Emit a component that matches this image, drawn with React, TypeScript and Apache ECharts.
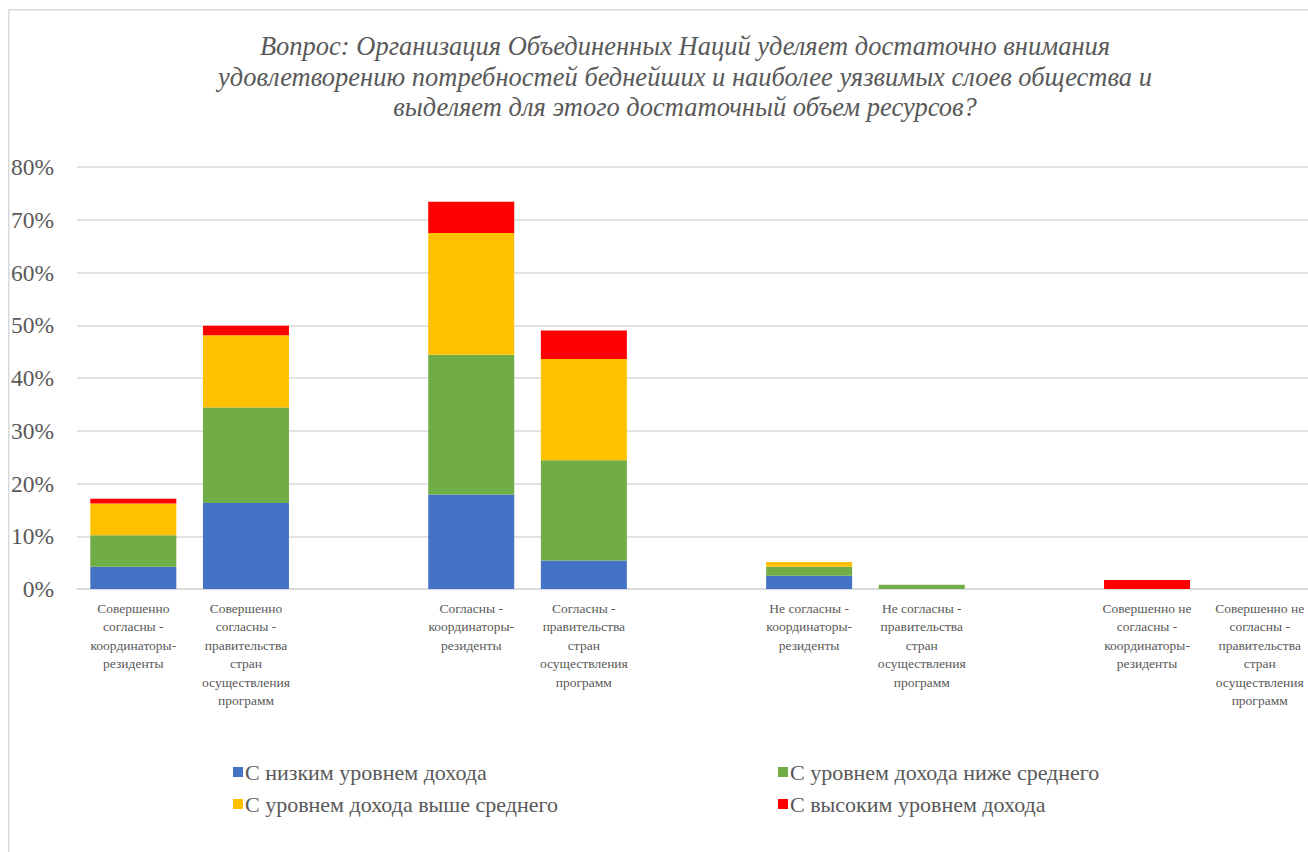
import React, { useEffect, useRef } from "react";
import * as echarts from "echarts";

const titleText =
  "Вопрос: Организация Объединенных Наций уделяет достаточно внимания\nудовлетворению потребностей беднейших и наиболее уязвимых слоев общества и\nвыделяет для этого достаточный объем ресурсов?";

const categories = [
  "Совершенно\nсогласны -\nкоординаторы-\nрезиденты",
  "Совершенно\nсогласны -\nправительства\nстран\nосуществления\nпрограмм",
  " ",
  "Согласны -\nкоординаторы-\nрезиденты",
  "Согласны -\nправительства\nстран\nосуществления\nпрограмм",
  "  ",
  "Не согласны -\nкоординаторы-\nрезиденты",
  "Не согласны -\nправительства\nстран\nосуществления\nпрограмм",
  "   ",
  "Совершенно не\nсогласны -\nкоординаторы-\nрезиденты",
  "Совершенно не\nсогласны -\nправительства\nстран\nосуществления\nпрограмм",
];

const seriesNames = [
  "С низким уровнем дохода",
  "С уровнем дохода ниже среднего",
  "С уровнем дохода выше среднего",
  "С высоким уровнем дохода",
];

const lowIncome = [4.2, 16.3, null, 17.9, 5.4, null, 2.5, 0, null, 0, 0];
const lowerMiddle = [6.0, 18.1, null, 26.5, 19.0, null, 1.7, 0.8, null, 0, 0];
const upperMiddle = [6.0, 13.7, null, 23.1, 19.2, null, 0.9, 0, null, 0, 0];
const highIncome = [0.9, 1.8, null, 5.9, 5.4, null, 0, 0, null, 1.7, 0];

const yTicks = [0, 10, 20, 30, 40, 50, 60, 70, 80];

const colors = ["#4472C4", "#70AD47", "#FFC000", "#FF0000"];

export default function App() {
  const ref = useRef<HTMLDivElement>(null);
  useEffect(() => {
    if (!ref.current) return;
    const chart = echarts.init(ref.current, null, { renderer: "svg" });
    const font = "Liberation Serif";
    const values = [lowIncome, lowerMiddle, upperMiddle, highIncome];
    const legendPos = [
      { left: 233, top: 761 },
      { left: 778, top: 761 },
      { left: 233, top: 793 },
      { left: 778, top: 793 },
    ];
    chart.setOption({
      animation: false,
      backgroundColor: "#ffffff",
      graphic: [
        {
          type: "rect",
          shape: { x: 8.75, y: 9.75, width: 1400, height: 1000 },
          style: { fill: "none", stroke: "#d9d9d9", lineWidth: 1.5 },
          silent: true,
        },
        {
          type: "text",
          x: 685,
          y: 31,
          style: {
            text: titleText,
            textAlign: "center",
            textVerticalAlign: "top",
            fill: "#595959",
            fontFamily: font,
            fontStyle: "italic",
            fontSize: 26.5,
            lineHeight: 30.5,
          },
        },
      ],
      legend: seriesNames.map((n, i) => ({
        data: [n],
        left: legendPos[i].left,
        top: legendPos[i].top,
        padding: 0,
        icon: "rect",
        itemWidth: 10,
        itemHeight: 10,
        selectedMode: false,
        textStyle: { fontFamily: font, fontSize: 22, color: "#595959", padding: [0, 0, 0, -3] },
      })),
      grid: { left: 77, top: 167, width: 1239, height: 422, containLabel: false },
      xAxis: {
        type: "category",
        data: categories,
        axisLine: { lineStyle: { color: "#d9d9d9", width: 1.5 } },
        axisTick: { show: false },
        axisLabel: {
          interval: 0,
          fontFamily: font,
          fontSize: 13.5,
          color: "#595959",
          lineHeight: 18.5,
          margin: 10,
        },
      },
      yAxis: {
        type: "value",
        min: yTicks[0],
        max: yTicks[yTicks.length - 1],
        interval: 10,
        axisLine: { show: false },
        axisTick: { show: false },
        splitLine: { lineStyle: { color: "#d9d9d9", width: 1.5 } },
        axisLabel: {
          formatter: "{value}%",
          fontFamily: font,
          fontSize: 23.5,
          color: "#595959",
          margin: 23,
        },
      },
      series: seriesNames.map((n, i) => ({
        name: n,
        type: "bar",
        stack: "total",
        barWidth: 86,
        data: values[i],
        itemStyle: { color: colors[i] },
      })),
    });
    return () => chart.dispose();
  }, []);
  return (
    <div style={{ position: "absolute", left: 0, top: 0, width: 1308, height: 852, overflow: "hidden" }}>
      <div ref={ref} style={{ width: 1340, height: 852 }} />
    </div>
  );
}
